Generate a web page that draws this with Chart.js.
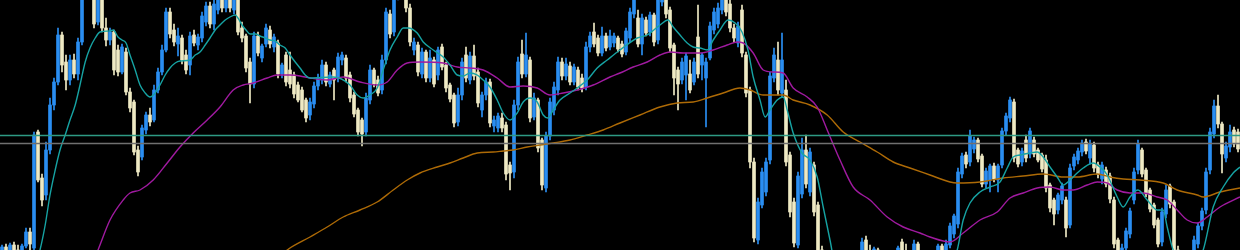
<!DOCTYPE html>
<html>
<head>
<meta charset="utf-8">
<script src="https://cdn.jsdelivr.net/npm/chart.js@4/dist/chart.umd.min.js"></script>
<style>
  html, body { margin: 0; padding: 0; background: #000; }
  #wrap { width: 1240px; height: 250px; }
</style>
</head>
<body>
<div id="wrap"><canvas id="chart"></canvas></div>
<script>
// candles, price units (0 = bottom edge, 250 = top edge)
const opens = [
  -4, 3, -1, 5, 0, -4, 4, 18, 2, 118,
  72, 55, 100, 145, 168, 215, 188, 170, 190, 176,
  208, 258, 268, 256, 228, 258, 222, 210, 218, 200,
  178, 198, 158, 148, 100, 93, 120, 135, 130, 160,
  178, 200, 238, 220, 206, 212, 195, 185, 215, 205,
  212, 228, 244, 226, 240, 256, 242, 252, 240, 250,
  222, 214, 188, 166, 214, 192, 206, 220, 203, 207,
  176, 195, 180, 175, 165, 160, 150, 135, 146, 164,
  170, 185, 166, 180, 172, 190, 192, 175, 155, 140,
  130, 118, 150, 180, 170, 160, 190, 236, 218, 254,
  275, 270, 242, 200, 205, 176, 198, 172, 190, 175,
  203, 185, 165, 155, 128, 155, 195, 170, 194, 178,
  140, 155, 168, 124, 122, 132, 125, 85, 78, 145,
  196, 176, 190, 133, 150, 110, 62, 114, 140, 160,
  188, 174, 184, 168, 180, 172, 163, 203, 218, 212,
  197, 214, 203, 207, 212, 206, 198, 212, 236, 232,
  206, 230, 218, 235, 210, 248, 262, 240, 205, 180,
  170, 175, 176, 168, 213, 185, 172, 192, 220, 226,
  240, 258, 246, 222, 207, 240, 195, 160, 88, 10,
  45, 58, 90, 172, 190, 157, 160, 95, 48, 5,
  56, 100, 58, 85, 45, 0, -18, -36, -24, -46,
  -58, -42, -28, -40, -18, -6, 10, -2, -12, 0,
  -14, -26, -14, -22, -8, 8, -4, -10, -18, 6,
  -10, -22, -14, -26, -10, 4, -6, 5, 16, 26,
  76, 95, 88, 101, 110, 94, 66, 70, 84, 70,
  85, 119, 132, 148, 100, 88, 110, 96, 110, 100,
  95, 90, 65, 50, 40, 50, 50, 25, 84, 90,
  98, 108, 92, 105, 85, 71, 80, 74, 50, 10,
  -26, 2, 16, 50, 80, 100, 80, 60, 45, 30,
  8, 36, 64, 48, 0, -18, -10, -26, -10, 6,
  24, 40, 80, 116, 144, 126, 92, 103, 120, 118
];
const highs = [
  5, 6, 7, 8, 5, 6, 22, 22, 118, 120,
  76, 108, 152, 172, 222, 218, 195, 195, 196, 212,
  262, 275, 276, 260, 265, 266, 232, 222, 220, 205,
  206, 202, 162, 150, 104, 125, 138, 142, 165, 182,
  205, 242, 242, 226, 222, 215, 200, 218, 220, 216,
  238, 248, 248, 250, 262, 262, 258, 256, 258, 253,
  228, 216, 192, 218, 218, 206, 226, 224, 216, 210,
  187, 198, 198, 178, 168, 163, 152, 152, 168, 176,
  190, 188, 178, 182, 197, 198, 195, 178, 158, 142,
  132, 157, 185, 182, 174, 195, 242, 240, 258, 280,
  290, 276, 246, 212, 208, 202, 200, 200, 193, 203,
  206, 188, 167, 157, 162, 192, 203, 198, 205, 182,
  158, 172, 171, 134, 137, 137, 128, 88, 150, 193,
  210, 217, 193, 157, 152, 112, 118, 152, 168, 193,
  192, 192, 188, 186, 183, 176, 208, 218, 227, 215,
  223, 217, 220, 217, 214, 209, 222, 242, 256, 240,
  236, 233, 238, 237, 258, 266, 268, 243, 207, 183,
  192, 197, 190, 192, 245, 197, 192, 228, 242, 247,
  262, 264, 254, 226, 228, 245, 198, 163, 92, 52,
  82, 92, 178, 202, 208, 217, 170, 98, 52, 78,
  112, 115, 102, 88, 48, 4, -12, -20, -18, -40,
  -38, -22, -20, -14, -2, 12, 14, 5, 3, 2,
  -8, -10, -6, -4, 4, 11, 6, -4, 10, 8,
  -4, -10, -8, -6, 6, 6, 10, 27, 36, 82,
  97, 98, 120, 113, 112, 96, 82, 86, 87, 86,
  122, 137, 153, 151, 102, 102, 115, 122, 113, 102,
  97, 95, 67, 52, 57, 67, 53, 86, 96, 102,
  110, 111, 110, 108, 88, 88, 83, 77, 53, 12,
  6, 22, 42, 82, 110, 102, 82, 62, 47, 32,
  42, 65, 66, 50, 4, -6, -4, -8, 14, 27,
  42, 82, 122, 150, 155, 128, 108, 125, 123, 121
];
const lows = [
  -10, -5, -6, -2, -8, -6, 2, 0, -5, 68,
  44, 50, 96, 140, 165, 178, 160, 165, 172, 170,
  205, 252, 252, 222, 225, 218, 204, 205, 175, 174,
  176, 155, 138, 95, 74, 90, 116, 124, 128, 157,
  175, 198, 212, 204, 194, 186, 176, 175, 204, 200,
  208, 224, 222, 220, 236, 238, 238, 238, 236, 215,
  208, 178, 147, 162, 194, 188, 203, 202, 198, 172,
  172, 164, 162, 152, 148, 138, 128, 130, 142, 160,
  166, 164, 163, 150, 168, 185, 168, 148, 133, 114,
  104, 114, 146, 163, 154, 156, 186, 212, 214, 250,
  262, 238, 204, 195, 174, 172, 168, 168, 163, 170,
  180, 158, 148, 123, 124, 150, 168, 166, 170, 143,
  133, 150, 123, 118, 118, 118, 70, 60, 72, 140,
  172, 173, 128, 130, 98, 60, 58, 110, 135, 155,
  170, 170, 165, 165, 160, 158, 160, 198, 203, 194,
  194, 199, 200, 203, 198, 193, 195, 208, 232, 203,
  195, 214, 214, 204, 206, 244, 232, 198, 155, 140,
  166, 150, 157, 165, 172, 170, 123, 190, 216, 222,
  236, 234, 218, 208, 203, 193, 153, 82, 8, 6,
  42, 54, 86, 168, 155, 153, 84, 33, 3, 2,
  52, 62, 54, 34, -5, -22, -40, -42, -50, -62,
  -64, -48, -46, -44, -24, -10, -8, -14, -16, -18,
  -30, -30, -28, -26, -12, -8, -14, -22, -20, -14,
  -26, -28, -30, -30, -14, -12, -10, 2, 12, 22,
  72, 82, 84, 97, 88, 63, 62, 58, 68, 58,
  82, 115, 128, 88, 83, 84, 88, 92, 93, 88,
  78, 58, 38, 25, 36, 46, 13, 22, 80, 86,
  94, 96, 86, 78, 72, 66, 63, 47, 2, -20,
  -30, -2, 12, 46, 76, 73, 53, 38, 22, 3,
  4, 32, 42, -4, -22, -24, -30, -30, -14, 2,
  20, 36, 76, 112, 122, 77, 88, 98, 103, 98
];
const closes = [
  3, -1, 5, 0, -4, 4, 18, 6, 115, 70,
  50, 100, 145, 168, 215, 185, 170, 190, 176, 208,
  258, 268, 258, 226, 258, 222, 210, 218, 180, 178,
  203, 158, 142, 98, 78, 122, 135, 128, 160, 178,
  200, 238, 216, 208, 214, 190, 180, 214, 207, 213,
  234, 244, 226, 246, 256, 242, 252, 242, 250, 218,
  212, 182, 166, 214, 197, 204, 222, 206, 213, 176,
  185, 168, 166, 156, 150, 140, 132, 148, 164, 172,
  185, 168, 175, 170, 193, 195, 172, 152, 136, 118,
  116, 152, 180, 166, 157, 190, 238, 216, 254, 275,
  268, 242, 208, 208, 178, 198, 172, 192, 166, 200,
  183, 162, 151, 127, 155, 188, 172, 194, 174, 147,
  155, 168, 127, 130, 134, 122, 76, 77, 145, 188,
  176, 195, 132, 152, 102, 65, 114, 148, 163, 188,
  174, 186, 168, 183, 163, 162, 203, 214, 206, 197,
  214, 202, 214, 214, 201, 196, 219, 238, 250, 206,
  232, 217, 235, 208, 250, 260, 236, 202, 172, 166,
  188, 194, 160, 188, 176, 195, 188, 224, 238, 242,
  256, 238, 222, 212, 224, 197, 157, 88, 12, 48,
  78, 88, 174, 195, 160, 190, 88, 38, 7, 74,
  100, 66, 98, 38, 0, -18, -36, -24, -46, -58,
  -42, -28, -40, -18, -6, 8, -4, -10, 1, -14,
  -26, -14, -22, -8, 2, -4, -10, -18, 6, -10,
  -22, -14, -26, -10, 4, -6, 6, 24, 34, 78,
  94, 86, 114, 110, 91, 66, 79, 84, 71, 84,
  119, 134, 150, 92, 86, 99, 92, 119, 96, 90,
  81, 62, 42, 36, 55, 64, 22, 82, 93, 99,
  107, 99, 106, 82, 76, 85, 66, 51, 6, -15,
  2, 19, 39, 78, 106, 76, 56, 41, 25, 6,
  38, 60, 46, 0, -18, -10, -26, -12, 10, 24,
  39, 78, 118, 144, 126, 96, 104, 118, 106, 101
];

// moving averages as [candle index, value]
const fastMA = [[6.5,-40],[9.5,0],[10.8,25],[12,55],[13.3,80],[14.5,100],[15.8,115],[17,130],[18.3,145],[19.5,165],[20.8,188],[22,202],[23.3,212],[24.5,218],[27,219],[27.8,220],[29,213],[30,210],[31,207],[32,195],[33.3,180],[34.5,165],[35.8,157],[37,153],[38.3,157],[39.5,165],[40.8,175],[42,182],[43.3,187],[44.5,189],[47,190],[48.3,195],[49.5,198],[50.8,205],[52,212],[53.3,220],[54.5,225],[55.8,230],[57,233],[58.3,235],[59,232],[60,225],[61,220],[62,216],[63.3,216],[64.5,214],[65.8,212],[67,210],[68.3,209],[69.5,205],[70.8,202],[72,195],[73.3,188],[74.5,182],[75.8,175],[77,172],[82.8,173],[87,165],[88.8,155],[90.3,152],[92,155],[93.8,162],[95.3,180],[97,200],[98.8,213],[100.3,222],[101.5,222],[103.8,217],[105.3,208],[107.8,200],[110.3,193],[112,185],[113.8,175],[115.3,174],[117,177],[118.8,175],[120.3,170],[122,163],[123.8,150],[125.3,137],[127,130],[128.8,137],[130.3,148],[132,152],[133.8,148],[135.3,135],[136.5,132],[137.8,140],[139.5,150],[142,157],[143.8,162],[146.3,170],[148.8,182],[151.3,190],[154.5,200],[158.8,212],[161.3,215],[164.5,225],[166.5,230],[167.8,223],[169.5,215],[171.3,207],[172.8,203],[174.5,202],[176.3,200],[177.8,210],[179.5,220],[181.5,230],[183.3,227],[185,218],[186.5,200],[187.8,173],[189.5,150],[190.8,133],[192,140],[193.8,150],[195.3,153],[196.3,140],[197.8,117],[200,97],[202,90],[203.8,73],[205.3,43],[207,10],[208.5,-20],[215,-45],[228,-50],[236,-25],[238.8,0],[240.3,30],[242,47],[244.5,58],[247,63],[249.5,68],[251.3,82],[252.8,93],[254.5,95],[257,97],[258.8,98],[260.3,93],[262,83],[263.8,73],[265.3,65],[267,70],[268.8,77],[270.3,82],[272.8,87],[274.5,83],[276.3,75],[278.8,53],[280.3,43],[282,53],[284,60],[286.3,50],[288.8,40],[290.3,40],[291.3,23],[292.8,0],[296.5,-22],[300.3,0],[302.8,43],[305.3,63],[307.8,77],[309.5,83]];
const midMA = [[20.8,-30],[24,0],[27,30],[30.3,50],[32,57],[34.5,60],[37.8,70],[41.3,87],[44.5,103],[47.8,117],[51.3,130],[54.5,143],[57.8,160],[60.3,165],[62.8,167],[66.3,172],[68.8,175],[72,175],[74.5,174],[77,172],[81.3,170],[85.3,173],[89.5,168],[93.8,165],[96.3,168],[98.8,180],[101.3,187],[104.5,188],[110.3,187],[113.8,183],[117,182],[120.3,180],[123.8,172],[127,163],[130.3,164],[133.8,162],[137,155],[140.3,157],[143.8,160],[147.8,165],[152,173],[154.5,177],[157.8,183],[161.3,188],[164.5,195],[167,198],[170.3,197],[174.5,197],[177.8,200],[181.3,205],[183.8,208],[185.3,207],[187.8,197],[190.3,180],[192.8,178],[195.3,177],[197.8,162],[201.3,153],[203.8,143],[206.3,120],[209.5,90],[212.8,63],[217,50],[221.3,33],[225.3,23],[229.5,17],[232,13],[237,8],[240.3,17],[244.5,30],[248.8,38],[252,52],[255.3,57],[258.8,62],[262,63],[265.3,60],[267.8,60],[271.3,65],[273.8,68],[276.3,67],[278.8,60],[282,57],[285.3,57],[288.8,53],[291.3,50],[293.8,40],[296.3,30],[298.8,27],[301.3,33],[304.5,43],[309.5,53]];
const slowMA = [[64.5,-25],[71.3,0],[77,13],[81.3,23],[85.3,33],[89.5,40],[93.8,48],[97.8,60],[101.3,70],[104.5,77],[108.8,83],[112,87],[115.3,92],[118.8,97],[122.8,98],[125.3,99],[127.8,100],[131.3,103],[134.5,105],[137.8,107],[142,110],[146.3,115],[150.3,120],[154.5,127],[159.5,135],[164.5,143],[168.8,147],[172.8,148],[176.3,152],[180.3,157],[184.5,162],[187,160],[190.3,155],[193.8,155],[195.3,155],[197.8,150],[202,145],[206.3,135],[210.3,118],[214.5,108],[218.8,98],[222.8,88],[227,82],[232,75],[237,68],[238.8,67],[244.5,68],[250.3,72],[255.3,74],[260.3,76],[265.3,73],[268.8,73],[273.8,76],[277,73],[280.3,71],[284.5,70],[290.3,67],[293.8,60],[298.8,55],[300.3,53],[304.5,58],[309.5,62]];

// horizontal levels
const levels = [114.5, 106.5];
const levelColors = ['#2e9a84', '#707070'];

const upColor = '#2a8ef2';
const downColor = '#efeac4';

const n = opens.length;
const idx = opens.map((_, i) => i);
const candleColors = idx.map(i => closes[i] >= opens[i] ? upColor : downColor);

function maLine(points, color) {
    return {
        type: 'line',
        data: points.map(([x, y]) => ({ x, y })),
        borderColor: color,
        borderWidth: 1.4,
        pointRadius: 0,
        cubicInterpolationMode: 'monotone',
        order: 0
    };
}

const levelSets = levels.map((v, k) => ({
    type: 'line',
    data: [{ x: -0.5, y: v }, { x: n - 0.5, y: v }],
    borderColor: levelColors[k],
    borderWidth: 1.5,
    pointRadius: 0,
    order: 0
}));

new Chart(document.getElementById('chart'), {
    type: 'bar',
    data: {
        datasets: [
            ...levelSets,
            maLine(fastMA, '#16a3a3'),
            maLine(midMA, '#a01aa0'),
            maLine(slowMA, '#ad6a06'),
            {
                data: idx.map(i => ({ x: i, y: [lows[i], highs[i]] })),
                backgroundColor: candleColors,
                barThickness: 1,
                grouped: false,
                order: 2
            },
            {
                data: idx.map(i => ({ x: i, y: [opens[i], closes[i]] })),
                backgroundColor: candleColors,
                barThickness: 3,
                minBarLength: 1,
                grouped: false,
                order: 1
            }
        ]
    },
    options: {
        responsive: true,
        maintainAspectRatio: false,
        animation: false,
        layout: { padding: 0 },
        plugins: { legend: { display: false }, tooltip: { enabled: false } },
        scales: {
            x: { type: 'linear', min: -0.5, max: n - 0.5, offset: false, display: false },
            y: { min: 0, max: 250, display: false }
        }
    }
});
</script>
</body>
</html>
